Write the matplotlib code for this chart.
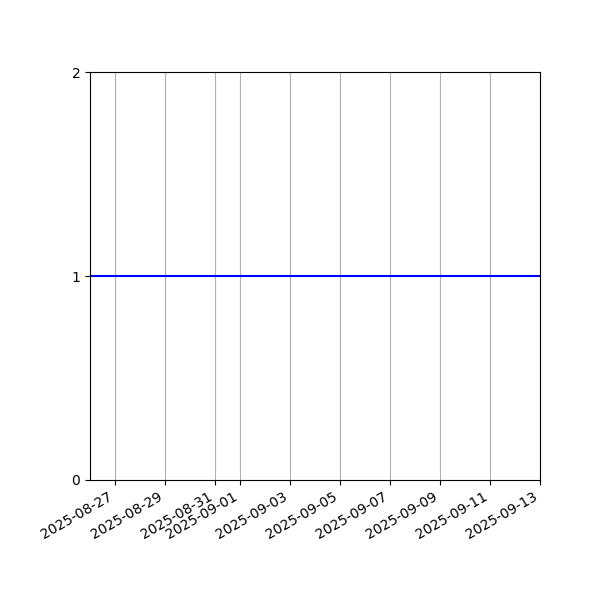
import numpy as np
import pandas as pd
import matplotlib
matplotlib.use('Agg')
import matplotlib.pyplot as plt

# daily series, flat at 1
dates = pd.date_range('2025-08-26', '2025-09-13', freq='D')
values = [1] * len(dates)
y_ticks = [0, 1, 2]

fig, ax = plt.subplots(figsize=(6, 6), dpi=100)
ax.plot(dates, values, color='blue', linewidth=1.5)
ax.set_xlim(dates[0], dates[-1])
ax.set_ylim(0, 2)
ax.set_yticks(y_ticks)
ax.grid(True, axis='x')
fig.autofmt_xdate()
fig.subplots_adjust(left=0.15, right=0.9, top=0.88, bottom=0.2)
plt.savefig('out.png', dpi=100)
plt.close()
